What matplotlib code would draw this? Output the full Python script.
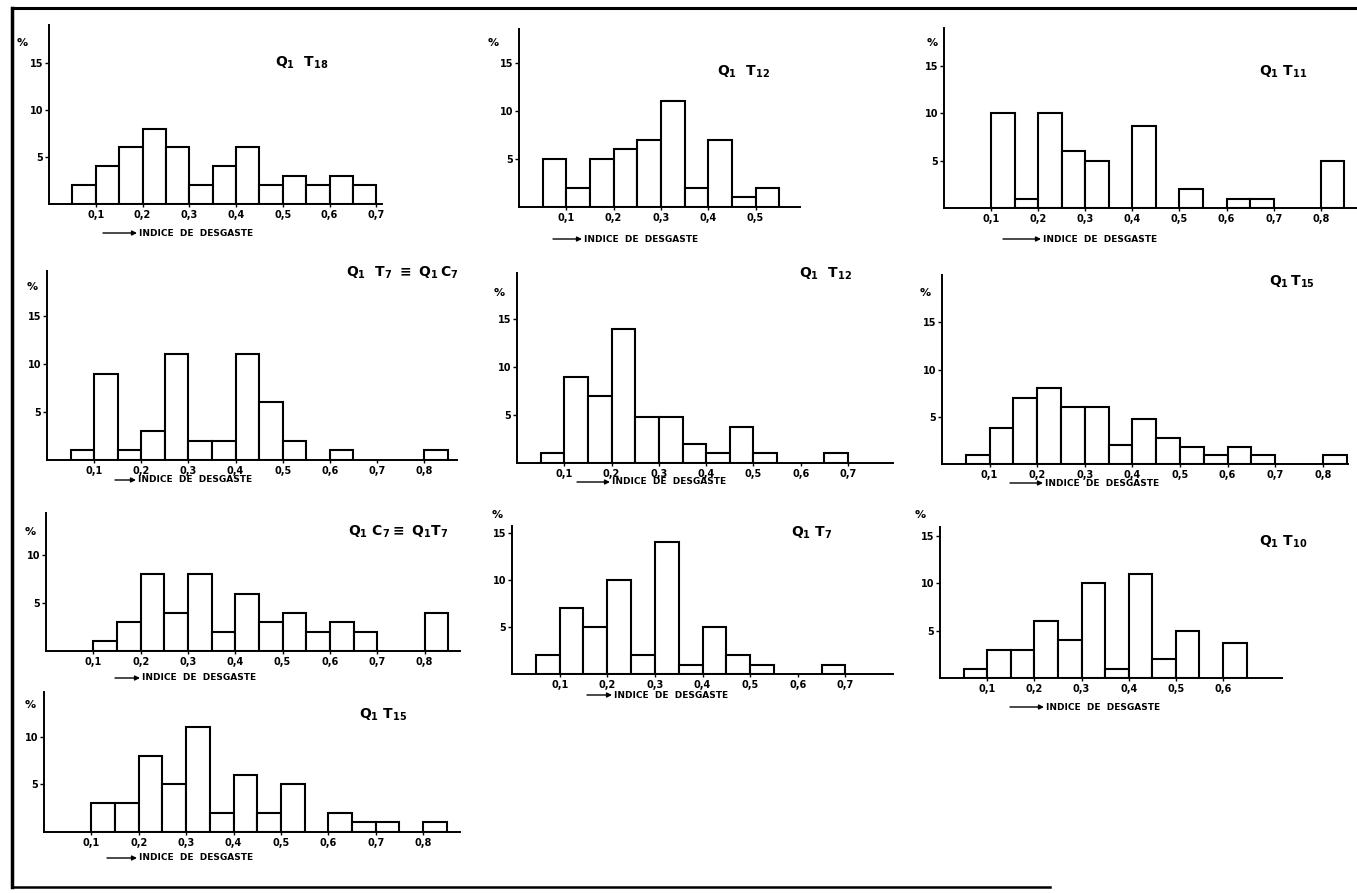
import matplotlib
matplotlib.use('Agg')
import matplotlib.pyplot as plt
from matplotlib.lines import Line2D

W, H = 1357, 893

plt.rcParams['font.family'] = 'DejaVu Sans'
plt.rcParams['font.weight'] = 'bold'
plt.rcParams['mathtext.fontset'] = 'dejavusans'

# percentages per bin of width 0.05, first bin starts at 0.05
bin_start = 0.05
bin_width = 0.05

t18 = [2, 4, 6, 8, 6, 2, 4, 6, 2, 3, 2, 3, 2]
t12_top = [5, 2, 5, 6, 7, 11, 2, 7, 1, 2]
t11 = [0, 10, 1, 10, 6, 5, 0, 8.7, 0, 2, 0, 1, 1, 0, 0, 5]
t7_c7 = [1, 9, 1, 3, 11, 2, 2, 11, 6, 2, 0, 1, 0, 0, 0, 1]
t12_mid = [1, 9, 7, 14, 4.8, 4.8, 2, 1, 3.7, 1, 0, 0, 1]
t15_mid = [1, 3.8, 7, 8, 6, 6, 2, 4.8, 2.8, 1.8, 1, 1.8, 1, 0, 0, 1]
c7_t7 = [0, 1, 3, 8, 4, 8, 2, 6, 3, 4, 2, 3, 2, 0, 0, 4]
t7 = [2, 7, 5, 10, 2, 14, 1, 5, 2, 1, 0, 0, 1]
t10 = [1, 3, 3, 6, 4, 10, 1, 11, 2, 5, 0, 3.7]
t15_bot = [0, 3, 3, 8, 5, 11, 2, 6, 2, 5, 0, 2, 1, 1, 0, 1]

titles = [
    r'$\mathbf{Q_1\ \ T_{18}}$',
    r'$\mathbf{Q_1\ \ T_{12}}$',
    r'$\mathbf{Q_1\ T_{11}}$',
    r'$\mathbf{Q_1\ \ T_7\ \equiv\ Q_1\,C_7}$',
    r'$\mathbf{Q_1\ \ T_{12}}$',
    r'$\mathbf{Q_1\,T_{15}}$',
    r'$\mathbf{Q_1\ C_7\equiv\ Q_1T_7}$',
    r'$\mathbf{Q_1\ T_7}$',
    r'$\mathbf{Q_1\ T_{10}}$',
    r'$\mathbf{Q_1\ T_{15}}$',
]
series = [t18, t12_top, t11, t7_c7, t12_mid, t15_mid, c7_t7, t7, t10, t15_bot]

# layout in pixels: axis x0, baseline y, right end x, top y, xmax, ymax
boxes = [
    (49, 204, 382, 25, 0.712, 19.0),
    (519, 207, 800, 29, 0.594, 18.5),
    (944, 208, 1357, 28, 0.877, 19.0),
    (47, 460, 457, 271, 0.870, 19.7),
    (517, 463, 893, 273, 0.795, 19.8),
    (942, 464, 1348, 275, 0.853, 20.0),
    (46, 651, 460, 513, 0.875, 14.4),
    (512, 674, 893, 526, 0.800, 15.7),
    (940, 678, 1282, 527, 0.725, 15.9),
    (44, 832, 460, 692, 0.878, 14.7),
]
xtick_max = [0.7, 0.5, 0.8, 0.8, 0.7, 0.8, 0.8, 0.7, 0.6, 0.8]
ytick_sets = [[5, 10, 15]] * 6 + [[5, 10], [5, 10, 15], [5, 10, 15], [5, 10]]
pct_pos = [(22, 43), (493, 43), (932, 43), (32, 287), (499, 293), (925, 293),
           (30, 532), (497, 515), (920, 515), (30, 705)]
title_pos = [(302, 63), (743, 72), (1283, 72), (402, 273), (825, 274), (1292, 282),
             (398, 532), (812, 533), (1283, 542), (383, 715)]
# arrow start, arrow end (= text start), baseline y
xlab_pos = [(103, 137, 233), (553, 582, 239), (1003, 1041, 239), (115, 136, 480),
            (577, 610, 482), (1010, 1043, 483), (115, 140, 678), (587, 612, 695),
            (1010, 1044, 707), (107, 137, 858)]

fig = plt.figure(figsize=(W / 100, H / 100), dpi=100)

for i, vals in enumerate(series):
    x0, yb, x1, yt, xmax, ymax = boxes[i]
    ax = fig.add_axes([x0 / W, 1 - yb / H, (x1 - x0) / W, (yb - yt) / H])
    lefts = [bin_start + k * bin_width for k in range(len(vals))]
    for lft, v in zip(lefts, vals):
        if v > 0:
            ax.bar(lft, v, width=bin_width, align='edge', facecolor='white',
                   edgecolor='black', linewidth=1.5)
    ax.set_xlim(0, xmax)
    ax.set_ylim(0, ymax)
    for s in ['top', 'right']:
        ax.spines[s].set_visible(False)
    for s in ['left', 'bottom']:
        ax.spines[s].set_linewidth(1.4)
    n = int(round(xtick_max[i] * 10))
    xt = [k / 10 for k in range(1, n + 1)]
    ax.set_xticks(xt)
    ax.set_xticklabels([('%.1f' % t).replace('.', ',') for t in xt],
                       fontsize=7, fontweight='bold')
    ax.set_yticks(ytick_sets[i])
    ax.set_yticklabels([str(t) for t in ytick_sets[i]], fontsize=7, fontweight='bold')
    ax.tick_params(axis='x', length=2, width=1, pad=2)
    ax.tick_params(axis='y', length=3, width=1, pad=1)
    ax.patch.set_visible(False)

# overlay for annotations and frame
ov = fig.add_axes([0, 0, 1, 1])
ov.set_xlim(0, W)
ov.set_ylim(H, 0)
ov.axis('off')
ov.patch.set_visible(False)

for i in range(len(series)):
    px, py = pct_pos[i]
    ov.text(px, py, '%', fontsize=8, fontweight='bold', ha='center', va='center')
    tx, ty = title_pos[i]
    ov.text(tx, ty, titles[i], fontsize=10, ha='center', va='center')
    a0, a1, ly = xlab_pos[i]
    ov.annotate('', xy=(a1, ly), xytext=(a0, ly),
                arrowprops=dict(arrowstyle='-|>', lw=1, color='black',
                                mutation_scale=7, shrinkA=0, shrinkB=0))
    ov.text(a1 + 2, ly, 'INDICE  DE  DESGASTE', fontsize=6.5, fontweight='bold',
            ha='left', va='center')

# scanned page frame
ov.add_line(Line2D([12, 12], [8, 887], color='black', lw=2.5))
ov.add_line(Line2D([12, W], [8, 8], color='black', lw=2.2))
ov.add_line(Line2D([12, 1050], [887, 887], color='black', lw=1.8))

fig.savefig('out.png', dpi=100, facecolor='white')
